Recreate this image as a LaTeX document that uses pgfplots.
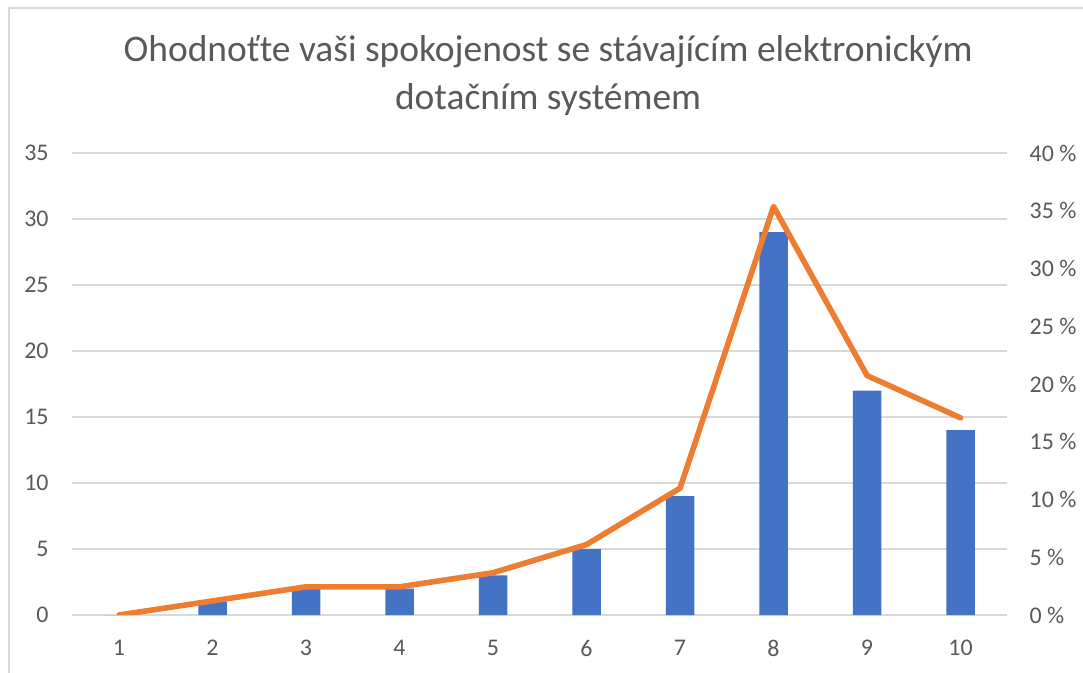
\documentclass[border=0pt]{standalone}
\usepackage{pgfplots}
\pgfplotsset{compat=1.18}
\usepackage{fontspec}
\setmainfont{Carlito}
\definecolor{barblue}{HTML}{4472C4}
\definecolor{lineorange}{HTML}{ED7D31}
\definecolor{gridgray}{HTML}{D9D9D9}
\definecolor{txtgray}{HTML}{595959}

\begin{document}
\begin{tikzpicture}
\pgfplotsset{
  common/.style={
    scale only axis, width=467.5bp, height=231bp,
    xmin=0.5, xmax=10.5,
    axis line style={draw=none},
    major tick length=0pt,
    tick label style={font=\fontsize{12}{14}\selectfont, text=txtgray, inner sep=0pt},
    /pgf/number format/assume math mode=true,
  },
}
% frame (left and top edges visible)
\useasboundingbox (-36.15bp,-29bp) rectangle (505.35bp,307.5bp);
\draw[gridgray, line width=0.75bp] (-31.65bp,-29bp) -- (-31.65bp,303.5bp) -- (505.35bp,303.5bp);

\begin{axis}[common,
  ymin=0, ymax=35, ytick={0,5,...,35},
  xtick={1,...,10},
  ymajorgrids, grid style={gridgray, line width=0.75bp},
  yticklabel style={xshift=-11.7bp},
  xticklabel style={yshift=-12.5bp},
  ybar, bar width=14.2bp,
]
\addplot[fill=barblue, draw=none] coordinates {
  (1,0) (2,1) (3,2) (4,2) (5,3) (6,5) (7,9) (8,29) (9,17) (10,14)
};
\end{axis}

\begin{axis}[common,
  ymin=0, ymax=40, ytick={0,5,...,40},
  axis y line*=right, axis x line=none,
  xtick=\empty,
  yticklabel style={anchor=west, xshift=11bp},
  yticklabel={\pgfmathprintnumber{\tick}~\%},
]
\addplot[lineorange, line width=2.8bp, line join=round, line cap=round] coordinates {
  (1,0) (2,1.22) (3,2.44) (4,2.44) (5,3.66) (6,6.10) (7,10.98) (8,35.37) (9,20.73) (10,17.07)
};
\end{axis}

\node[text=txtgray, font=\fontsize{18.8}{22}\selectfont] at (237.9bp,281.5bp) {Ohodnoťte vaši spokojenost se stávajícím elektronickým};
\node[text=txtgray, font=\fontsize{18.8}{22}\selectfont] at (237.9bp,257.5bp) {dotačním systémem};
\end{tikzpicture}
\end{document}
